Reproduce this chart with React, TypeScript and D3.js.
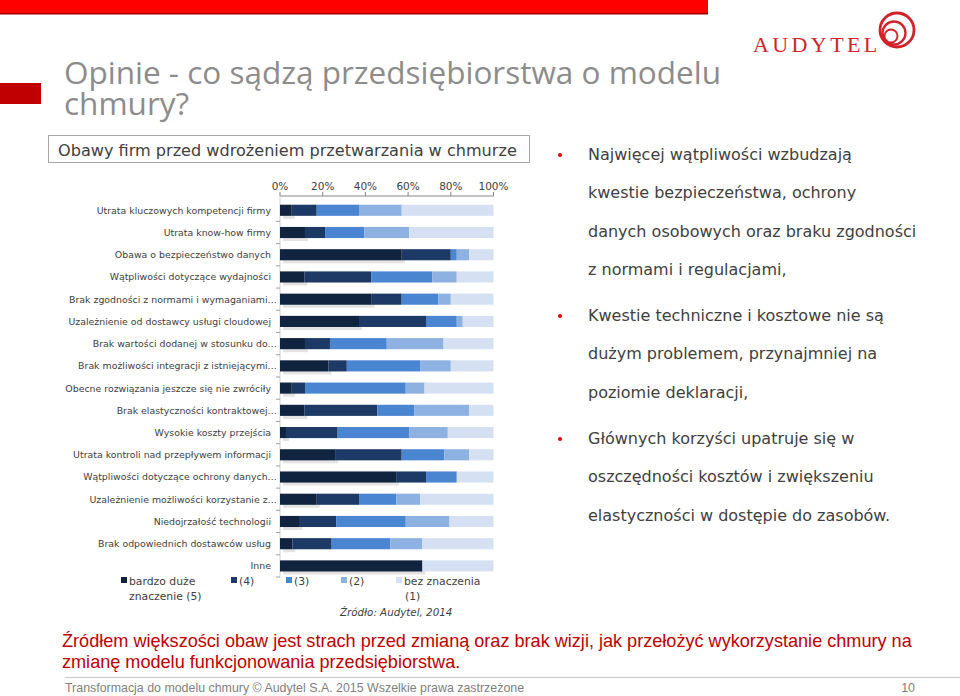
import React from "react";
import * as d3 from "d3";

const categories = [
  "Utrata kluczowych kompetencji firmy",
  "Utrata know-how firmy",
  "Obawa o bezpieczeństwo danych",
  "Wątpliwości dotyczące wydajności",
  "Brak zgodności z normami i wymaganiami…",
  "Uzależnienie od dostawcy usługi cloudowej",
  "Brak wartości dodanej w stosunku do…",
  "Brak możliwości integracji z istniejącymi…",
  "Obecne rozwiązania jeszcze się nie zwróciły",
  "Brak elastyczności kontraktowej…",
  "Wysokie koszty przejścia",
  "Utrata kontroli nad przepływem informacji",
  "Wątpliwości dotyczące ochrony danych…",
  "Uzależnienie możliwości korzystanie z…",
  "Niedojrzałość technologii",
  "Brak odpowiednich dostawców usług",
  "Inne",
];

const s5 = [5.5, 11.7, 57.0, 11.4, 42.7, 37.0, 11.7, 22.7, 5.5, 11.4, 2.8, 25.8, 54.4, 17.2, 8.9, 5.8, 66.7];
const s4 = [11.7, 9.4, 23.0, 31.3, 14.3, 31.4, 11.7, 8.6, 6.2, 34.2, 24.2, 31.2, 14.0, 19.8, 17.4, 18.4, 0];
const s3 = [19.8, 18.3, 2.8, 28.7, 17.2, 14.4, 26.6, 34.3, 47.2, 17.2, 33.5, 20.0, 14.4, 17.4, 32.6, 27.4, 0];
const s2 = [20.0, 21.1, 5.8, 11.4, 5.8, 2.8, 26.6, 14.4, 8.8, 25.8, 18.1, 11.6, 0, 11.2, 20.5, 15.1, 0];
const s1 = [43.0, 39.5, 11.4, 17.2, 20.0, 14.4, 23.4, 20.0, 32.3, 11.4, 21.4, 11.4, 17.2, 34.4, 20.6, 33.3, 33.3];

const seriesKeys = ["s5", "s4", "s3", "s2", "s1"];
const seriesColors = ["#10243f", "#1d3a66", "#4a85d1", "#8db2e2", "#d5e1f3"];
const tickValues = [0, 20, 40, 60, 80, 100];

const titleLines = ["Opinie - co sądzą przedsiębiorstwa o modelu", "chmury?"];
const chartTitle = "Obawy firm przed wdrożeniem przetwarzania w chmurze";
const bullets = [
  ["Najwięcej wątpliwości wzbudzają", "kwestie bezpieczeństwa,  ochrony", "danych osobowych oraz braku zgodności", "z normami  i regulacjami,"],
  ["Kwestie techniczne i kosztowe nie są", "dużym problemem, przynajmniej na", "poziomie deklaracji,"],
  ["Głównych korzyści upatruje się w", "oszczędności kosztów i zwiększeniu", "elastyczności w dostępie do zasobów."],
];
const conclusion = [
  "Źródłem większości obaw jest strach przed zmianą oraz brak wizji, jak przełożyć wykorzystanie chmury na",
  "zmianę modelu funkcjonowania przedsiębiorstwa.",
];
const footer = "Transformacja do modelu chmury  \u00A9 Audytel  S.A. 2015  Wszelkie prawa zastrzeżone";
const pageNo = "10";
const source = "Źródło: Audytel, 2014";

const FONT = "'DejaVu Sans', Verdana, sans-serif";

export default function App() {
  const rows = categories.map((c, i) => ({ cat: c, s5: s5[i], s4: s4[i], s3: s3[i], s2: s2[i], s1: s1[i] }));
  const stack = d3.stack<any>().keys(seriesKeys)(rows);
  const x = d3.scaleLinear().domain([0, 100]).range([280, 493.5]);
  const y = d3.scaleBand().domain(categories).range([193.6, 582.6]).paddingInner(0.5).paddingOuter(0.5);
  const bw = y.bandwidth();
  const step = y.step();

  return (
    <div style={{ position: "absolute", left: 0, top: 0 }}>
      <svg width={960} height={696} style={{ display: "block", background: "#fff" }}>
        {/* top red bar */}
        <rect x={0} y={0} width={708} height={13} fill="#ff0000" />
        <rect x={0} y={13} width={708} height={1.5} fill="#a00000" />
        <rect x={0} y={83} width={41} height={21} fill="#c00000" />

        {/* logo */}
        <text x={753} y={52} fontFamily="'Liberation Serif', 'DejaVu Serif', serif" fontSize={22} letterSpacing={3.4} fill="#d2232a">AUDYTEL</text>
        <circle cx={897} cy={30} r={17} fill="none" stroke="#d2232a" strokeWidth={2.8} />
        <circle cx={894} cy={33} r={11.5} fill="none" stroke="#d2232a" strokeWidth={2.3} />
        <circle cx={891} cy={36} r={6.5} fill="none" stroke="#d2232a" strokeWidth={1.9} />

        {/* title */}
        {titleLines.map((t, i) => (
          <text key={i} x={64} y={84 + i * 31} fontFamily="'Open Sans', sans-serif" fontSize={31.5} fill="#8c8c8c">{t}</text>
        ))}

        {/* chart title box */}
        <rect x={48.5} y={135.5} width={481} height={27} fill="#fff" stroke="#a6a6a6" strokeWidth={1} />
        <text x={58} y={155.5} fontFamily={FONT} fontSize={16.1} fill="#404040">{chartTitle}</text>

        {/* top axis */}
        <line x1={x(0)} x2={x(100)} y1={196} y2={196} stroke="#868686" />
        {tickValues.map((t) => (
          <g key={t}>
            <line x1={x(t)} x2={x(t)} y1={192} y2={196} stroke="#868686" />
            <text x={x(t)} y={189.5} textAnchor="middle" fontFamily={FONT} fontSize={10.5} fill="#404040">{t + "%"}</text>
          </g>
        ))}
        {/* left axis */}
        <line x1={280} x2={280} y1={196} y2={577} stroke="#d0d0d0" />
        {categories.map((c, i) => (
          <line key={"t" + i} x1={276} x2={280} y1={(y(c) as number) + bw + (step - bw) / 2} y2={(y(c) as number) + bw + (step - bw) / 2} stroke="#a0a0a0" />
        ))}

        {/* shadows of first segment */}
        {stack[0].map((d, i) => (
          <rect key={"sh" + i} x={x(d[0]) + 3} y={(y(categories[i]) as number) + 3} width={Math.max(0, x(d[1]) - x(d[0]))} height={bw} fill="#e3e3e3" />
        ))}

        {/* bars */}
        {stack.map((s, si) => (
          <g key={s.key} fill={seriesColors[si]}>
            {s.map((d, i) => (
              <rect key={i} x={x(d[0])} y={y(categories[i])} width={Math.max(0, x(d[1]) - x(d[0]))} height={bw} />
            ))}
          </g>
        ))}

        {/* category labels */}
        {categories.map((c, i) => (
          <text key={"l" + i} x={c.endsWith("…") ? 277 : 271} y={(y(c) as number) + bw / 2 + 3.4} textAnchor="end" fontFamily={FONT} fontSize={9.4} fill="#404040">{c}</text>
        ))}

        {/* legend */}
        <g fontFamily={FONT} fontSize={10.8} fill="#404040">
          <rect x={121} y={577} width={6} height={6} fill={seriesColors[0]} />
          <text x={129} y={585}>bardzo duże</text>
          <text x={129} y={600}>znaczenie (5)</text>
          <rect x={231} y={577} width={6} height={6} fill={seriesColors[1]} />
          <text x={239} y={585}>(4)</text>
          <rect x={286} y={577} width={6} height={6} fill={seriesColors[2]} />
          <text x={294} y={585}>(3)</text>
          <rect x={341} y={577} width={6} height={6} fill={seriesColors[3]} />
          <text x={349} y={585}>(2)</text>
          <rect x={396} y={577} width={6} height={6} fill={seriesColors[4]} />
          <text x={404} y={585}>bez znaczenia</text>
          <text x={405} y={600}>(1)</text>
        </g>
        <text x={340} y={616} fontFamily={FONT} fontSize={10.3} fontStyle="italic" fill="#404040">{source}</text>

        {/* bullets */}
        {bullets.map((b, bi) => {
          const starts = [160, 321, 444];
          return (
            <g key={"b" + bi}>
              <circle cx={560} cy={starts[bi] - 5} r={2} fill="#e00000" />
              {b.map((line, li) => (
                <text key={li} x={588} y={starts[bi] + li * 38.3} fontFamily={FONT} fontSize={16} fill="#404040">{line}</text>
              ))}
            </g>
          );
        })}

        {/* conclusion */}
        {conclusion.map((t, i) => (
          <text key={"c" + i} x={62} y={647 + i * 20.5} fontFamily="'Liberation Sans', Arial, sans-serif" fontSize={18.1} fill="#c00000">{t}</text>
        ))}

        {/* footer */}
        <line x1={65} x2={960} y1={677.5} y2={677.5} stroke="#c8c8c8" />
        <text x={65} y={692} fontFamily="'Liberation Sans', Arial, sans-serif" fontSize={12.4} fill="#7f7f7f">{footer}</text>
        <text x={915} y={692} textAnchor="end" fontFamily="'Liberation Sans', Arial, sans-serif" fontSize={12.4} fill="#7f7f7f">{pageNo}</text>
      </svg>
    </div>
  );
}
